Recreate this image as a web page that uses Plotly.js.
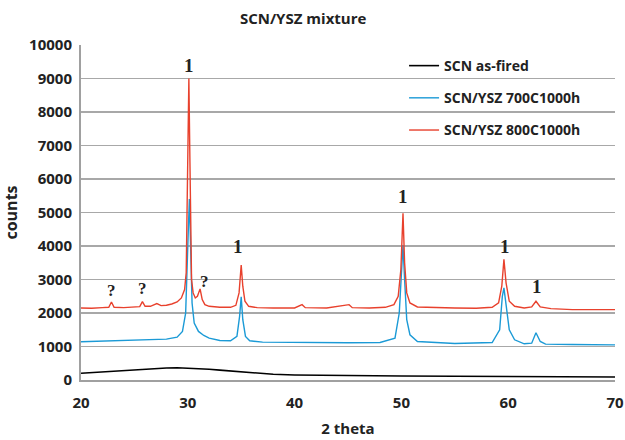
<!DOCTYPE html>
<html>
<head>
<meta charset="utf-8">
<script src="https://cdn.plot.ly/plotly-3.0.1.min.js"></script>
<style>html,body{margin:0;padding:0;background:#fff;}#chart{width:625px;height:440px;}</style>
</head>
<body>
<div id="chart"></div>
<script>
// SCN as-fired
const blackX = [20, 21, 22, 23, 24, 25, 26, 27, 28, 29, 30, 31, 32, 33, 34, 35, 36, 37, 38, 40, 42, 45, 50, 55, 60, 65, 70];
const blackY = [200, 220, 240, 270, 290, 310, 330, 350, 360, 365, 355, 340, 320, 295, 270, 240, 210, 190, 170, 150, 140, 130, 120, 110, 100, 95, 90];

// SCN/YSZ 700C1000h
const blueX = [20, 22, 24, 26, 28, 29, 29.5, 29.8, 29.95, 30.05, 30.15, 30.25, 30.4, 30.6, 31, 31.5, 32, 33, 34, 34.6, 34.85, 35.0, 35.15, 35.4, 35.8, 37, 40, 45, 48, 49.4, 49.8, 50.0, 50.15, 50.3, 50.5, 50.8, 51.5, 55, 58.5, 59.2, 59.45, 59.6, 59.8, 60.1, 60.6, 61.5, 62.2, 62.6, 63, 63.5, 66, 70];
const blueY = [1140, 1160, 1170, 1180, 1220, 1280, 1450, 2000, 3200, 4500, 5400, 3800, 2300, 1700, 1450, 1330, 1250, 1180, 1170, 1300, 1900, 2480, 1800, 1300, 1170, 1130, 1120, 1110, 1120, 1250, 2000, 3300, 4030, 3000, 1800, 1350, 1150, 1090, 1120, 1500, 2500, 2750, 2200, 1500, 1200, 1080, 1100, 1410, 1150, 1070, 1060, 1050];

// SCN/YSZ 800C1000h
const redX = [20, 21, 22, 22.6, 22.85, 23.1, 24, 25, 25.5, 25.75, 26.0, 26.5, 27.1, 27.5, 28, 28.5, 29.0, 29.4, 29.7, 29.85, 30.0, 30.1, 30.2, 30.35, 30.5, 30.7, 30.9, 31.15, 31.35, 31.6, 32, 33, 34, 34.5, 34.8, 35.0, 35.15, 35.35, 35.7, 36.5, 38, 40, 40.7, 41, 43, 45.1, 45.4, 47, 48.5, 49.3, 49.7, 49.95, 50.15, 50.3, 50.5, 50.8, 51.5, 53, 55, 57, 58.5, 59.1, 59.4, 59.6, 59.8, 60.1, 60.6, 61.5, 62.2, 62.6, 63, 64, 66, 68, 70];
const redY = [2150, 2140, 2160, 2170, 2330, 2170, 2160, 2180, 2190, 2340, 2200, 2200, 2280, 2220, 2230, 2270, 2330, 2450, 2700, 3200, 6000, 9000, 6500, 3000, 2600, 2450, 2500, 2720, 2400, 2250, 2200, 2170, 2170, 2230, 2600, 3430, 2800, 2350, 2200, 2160, 2150, 2150, 2250, 2160, 2150, 2250, 2160, 2150, 2170, 2250, 2500, 3300, 4980, 3500, 2600, 2300, 2180, 2160, 2150, 2140, 2170, 2300, 2800, 3600, 2900, 2350, 2200, 2150, 2180, 2350, 2180, 2130, 2100, 2100, 2100];

const seriesNames = ["SCN as-fired", "SCN/YSZ 700C1000h", "SCN/YSZ 800C1000h"];

// peak labels
const labelX = [30.1, 34.7, 50.15, 59.7, 62.7, 22.9, 25.8, 31.6];
const labelY = [9400, 4000, 5490, 4000, 2780, 2660, 2720, 2930];
const labelText = ["1", "1", "1", "1", "1", "?", "?", "?"];

const FONT = 'Open Sans, Noto Sans, sans-serif';

const traces = [
  {x: blackX, y: blackY, name: seriesNames[0], type: 'scatter', mode: 'lines', line: {color: '#000000', width: 1.6}, legendgroup: 'a'},
  {x: blueX, y: blueY, name: seriesNames[1], type: 'scatter', mode: 'lines', line: {color: '#1b9ad6', width: 1.4}, legendgroup: 'b'},
  {x: redX, y: redY, name: seriesNames[2], type: 'scatter', mode: 'lines', line: {color: '#e8412d', width: 1.4}, legendgroup: 'c'}
];

const annotations = labelX.map((x, i) => ({
  x: x, y: labelY[i], xref: 'x', yref: 'y', text: '<b>' + labelText[i] + '</b>', showarrow: false,
  font: {family: 'Liberation Serif, DejaVu Serif, serif', size: labelText[i] === '1' ? 19 : 17, color: '#222'}
}));

const layout = {
  width: 625, height: 440,
  margin: {l: 81, r: 10, t: 45, b: 60},
  paper_bgcolor: '#ffffff', plot_bgcolor: '#ffffff',
  font: {family: FONT, color: '#222'},
  title: {text: '<b>SCN/YSZ mixture</b>', x: 0.416, xref: 'paper', xanchor: 'center', y: 0.958, yanchor: 'middle', font: {size: 15, family: FONT, color: '#222'}},
  xaxis: {
    range: [20, 70], dtick: 10, tick0: 20, showgrid: false, zeroline: false, tickformat: 'd',
    showline: true, linecolor: '#a0a0a0', linewidth: 2, ticks: '', ticklabelstandoff: 8,
    tickfont: {size: 15, family: FONT, weight: 700, color: '#222'},
    title: {text: '<b>2 theta</b>', font: {size: 15, family: FONT, color: '#222'}, standoff: 12}
  },
  yaxis: {
    range: [0, 10000], dtick: 1000, tick0: 0, showgrid: true, gridcolor: '#a8a8a8', gridwidth: 1.2, zeroline: false, tickformat: 'd',
    showline: true, linecolor: '#a0a0a0', linewidth: 2, ticks: '', ticklabelstandoff: 4,
    tickfont: {size: 15, family: FONT, weight: 700, color: '#222'},
    title: {text: '<b>counts</b>', font: {size: 16, family: FONT, color: '#222'}, standoff: 8}
  },
  legend: {
    x: 0.605, y: 0.985, xanchor: 'left', yanchor: 'top', bgcolor: 'rgba(255,255,255,0)',
    font: {size: 14, family: FONT, weight: 700, color: '#222'},
    tracegroupgap: 11, traceorder: 'grouped'
  },
  showlegend: true,
  annotations: annotations
};

Plotly.newPlot('chart', traces, layout, {displayModeBar: false, staticPlot: true});
</script>
</body>
</html>
